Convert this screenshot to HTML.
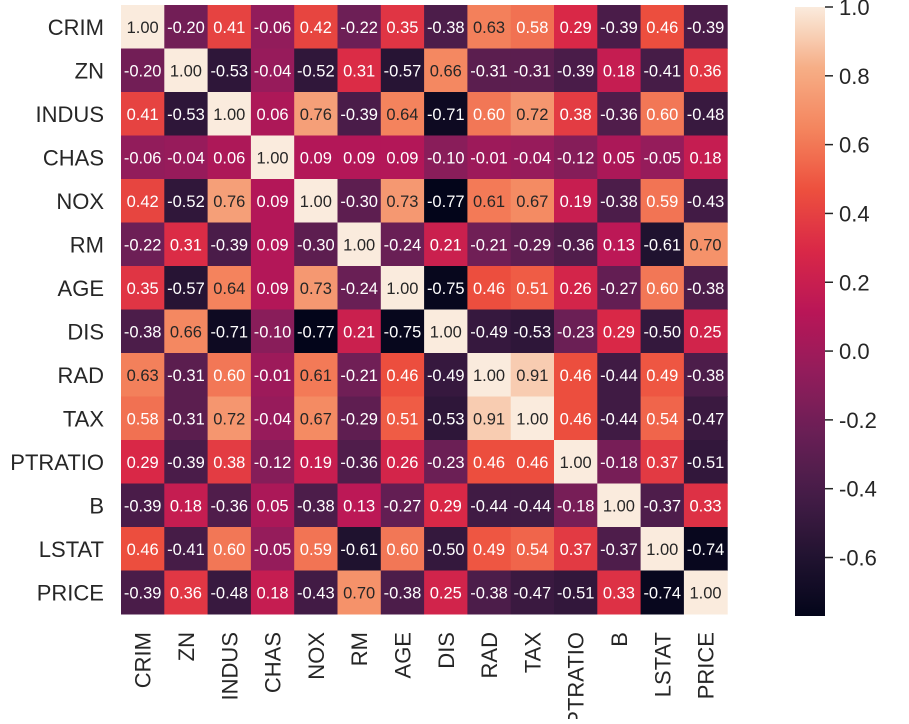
<!DOCTYPE html>
<html><head><meta charset="utf-8"><style>
body{margin:0;background:#fff;width:909px;height:719px;overflow:hidden;font-family:"Liberation Sans",Arial,sans-serif}
</style></head><body>
<svg id="chart" width="909" height="719" xmlns="http://www.w3.org/2000/svg" font-family="Liberation Sans, Arial, sans-serif">
<defs><linearGradient id="cbg" x1="0" y1="1" x2="0" y2="0"></linearGradient></defs>
<g id="cells"></g><g id="ylabels"></g><g id="xlabels"></g><g id="cbar"></g>
</svg>
<script>
const labels=["CRIM","ZN","INDUS","CHAS","NOX","RM","AGE","DIS","RAD","TAX","PTRATIO","B","LSTAT","PRICE"];
const matrix=[
[1.00,-0.20,0.41,-0.06,0.42,-0.22,0.35,-0.38,0.63,0.58,0.29,-0.39,0.46,-0.39],
[-0.20,1.00,-0.53,-0.04,-0.52,0.31,-0.57,0.66,-0.31,-0.31,-0.39,0.18,-0.41,0.36],
[0.41,-0.53,1.00,0.06,0.76,-0.39,0.64,-0.71,0.60,0.72,0.38,-0.36,0.60,-0.48],
[-0.06,-0.04,0.06,1.00,0.09,0.09,0.09,-0.10,-0.01,-0.04,-0.12,0.05,-0.05,0.18],
[0.42,-0.52,0.76,0.09,1.00,-0.30,0.73,-0.77,0.61,0.67,0.19,-0.38,0.59,-0.43],
[-0.22,0.31,-0.39,0.09,-0.30,1.00,-0.24,0.21,-0.21,-0.29,-0.36,0.13,-0.61,0.70],
[0.35,-0.57,0.64,0.09,0.73,-0.24,1.00,-0.75,0.46,0.51,0.26,-0.27,0.60,-0.38],
[-0.38,0.66,-0.71,-0.10,-0.77,0.21,-0.75,1.00,-0.49,-0.53,-0.23,0.29,-0.50,0.25],
[0.63,-0.31,0.60,-0.01,0.61,-0.21,0.46,-0.49,1.00,0.91,0.46,-0.44,0.49,-0.38],
[0.58,-0.31,0.72,-0.04,0.67,-0.29,0.51,-0.53,0.91,1.00,0.46,-0.44,0.54,-0.47],
[0.29,-0.39,0.38,-0.12,0.19,-0.36,0.26,-0.23,0.46,0.46,1.00,-0.18,0.37,-0.51],
[-0.39,0.18,-0.36,0.05,-0.38,0.13,-0.27,0.29,-0.44,-0.44,-0.18,1.00,-0.37,0.33],
[0.46,-0.41,0.60,-0.05,0.59,-0.61,0.60,-0.50,0.49,0.54,0.37,-0.37,1.00,-0.74],
[-0.39,0.36,-0.48,0.18,-0.43,0.70,-0.38,0.25,-0.38,-0.47,-0.51,0.33,-0.74,1.00]];
const cbTicks=[1.0,0.8,0.6,0.4,0.2,0.0,-0.2,-0.4,-0.6];
const vmin=-0.77, vmax=1.0;
const stops=[[0,"#03051a"],[0.1,"#221331"],[0.2,"#451c47"],[0.3,"#691f55"],[0.4,"#921c5b"],[0.5,"#b91657"],[0.6,"#d92847"],[0.7,"#ed503e"],[0.8,"#f4855e"],[0.9,"#f6ae86"],[1,"#faebdd"]];
function hex(h){return [1,3,5].map(i=>parseInt(h.substr(i,2),16));}
function cmap(v){let t=Math.max(0,Math.min(1,(v-vmin)/(vmax-vmin)));
 for(let i=1;i<stops.length;i++){if(t<=stops[i][0]){const a=hex(stops[i-1][1]),b=hex(stops[i][1]);const f=(t-stops[i-1][0])/(stops[i][0]-stops[i-1][0]);
 return "rgb("+a.map((c,k)=>Math.round(c+(b[k]-c)*f)).join(",")+")";}}return stops[stops.length-1][1];}
const NS="http://www.w3.org/2000/svg";
const X0=121,Y0=5,CW=43.3,CH=43.5;
const xs=i=>X0+i*CW, ys=j=>Y0+j*CH;
function mk(tag,attrs,parent){const e=document.createElementNS(NS,tag);for(const k in attrs)e.setAttribute(k,attrs[k]);parent.appendChild(e);return e;}
const cells=document.getElementById('cells');
matrix.forEach((row,j)=>row.forEach((v,i)=>{
 const r=mk('rect',{x:xs(i),y:ys(j),width:CW+0.5,height:CH+0.5,fill:cmap(v)},cells);
 
 
 const t=mk('text',{x:xs(i)+CW/2,y:ys(j)+CH/2+6,'text-anchor':'middle','font-size':'16.5',fill:v>=0.605?'#262626':'#ffffff'},cells);
 t.textContent=v.toFixed(2);
 
 
}));
const yl=document.getElementById('ylabels'),xl=document.getElementById('xlabels');
labels.forEach((l,i)=>{
 const t=mk('text',{x:104,y:ys(i)+CH/2+8,'text-anchor':'end','font-size':'22',fill:'#262626'},yl);
 t.textContent=l;
 
 
 const cx=xs(i)+CW/2+8;
 const u=mk('text',{x:cx,y:632,'text-anchor':'end','font-size':'22',fill:'#262626',transform:'rotate(-90 '+cx+' 632)'},xl);
 u.textContent=l;
 
 
});
const g=document.getElementById('cbg');
for(let k=0;k<=40;k++){const v=vmin+(vmax-vmin)*k/40;mk('stop',{offset:(k/40),'stop-color':cmap(v)},g);}
const cb=document.getElementById('cbar');
const CB0=7,CB1=616,cby=v=>CB0+(vmax-v)/(vmax-vmin)*(CB1-CB0);
const bar=mk('rect',{x:795,y:CB0,width:30,height:CB1-CB0,fill:'url(#cbg)'},cb);


cbTicks.forEach(v=>{
 const y=cby(v);
 mk('line',{x1:825,x2:833,y1:y,y2:y,stroke:'#262626','stroke-width':1.5},cb);
 const t=mk('text',{x:839,y:y+8,'font-size':'22',fill:'#262626'},cb);
 t.textContent=v.toFixed(1);
 
 
});
</script>
</body></html>
